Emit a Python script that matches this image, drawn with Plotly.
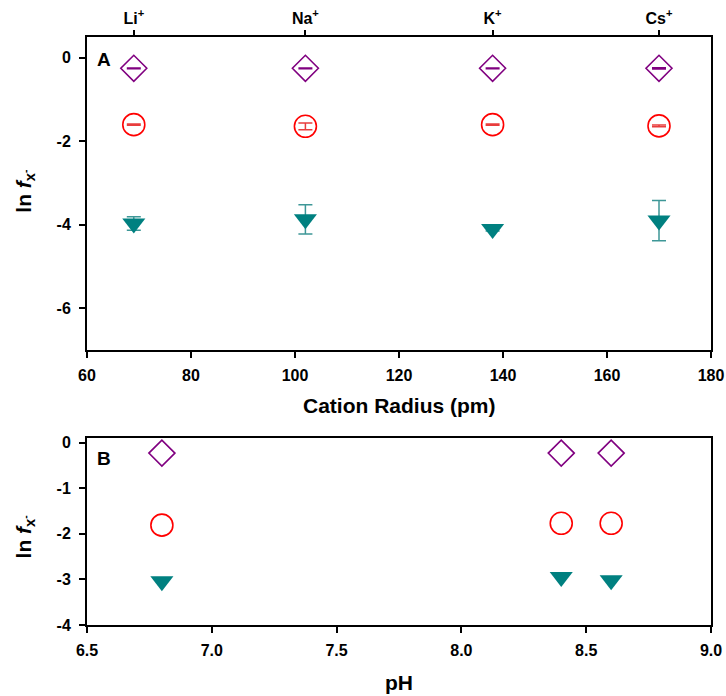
import plotly.graph_objects as go

# ---------------- data ----------------
cations = ["Li<sup>+</sup>", "Na<sup>+</sup>", "K<sup>+</sup>", "Cs<sup>+</sup>"]
radius_pm = [69, 102, 138, 170]

a_diamond = [-0.25, -0.25, -0.25, -0.25]
a_diamond_err = [0.01, 0.01, 0.01, 0.015]
a_circle = [-1.60, -1.64, -1.60, -1.63]
a_circle_err = [0.015, 0.08, 0.015, 0.02]
a_triangle = [-3.97, -3.87, -4.10, -3.90]
a_triangle_err = [0.16, 0.35, 0.05, 0.48]

ph = [6.8, 8.4, 8.6]
b_diamond = [-0.23, -0.23, -0.23]
b_circle = [-1.81, -1.77, -1.77]
b_triangle = [-3.04, -2.95, -3.02]

a_xticks = [60, 80, 100, 120, 140, 160, 180]
a_yticks = [0, -2, -4, -6]
a_ytext = ["0", "-2", "-4", "-6"]
b_xticks = [6.5, 7.0, 7.5, 8.0, 8.5, 9.0]
b_xtext = ["6.5", "7.0", "7.5", "8.0", "8.5", "9.0"]
b_yticks = [0, -1, -2, -3, -4]
b_ytext = ["0", "-1", "-2", "-3", "-4"]

PURPLE = "#800080"
RED = "#FF0000"
TEAL = "#008080"
FONT = "Liberation Sans, Arial, sans-serif"

fig = go.Figure()

def add(x, y, err, symbol, color, size, errcolor, xa, ya, filled=False):
    marker = dict(symbol=symbol, size=size, color=color if filled else "rgba(0,0,0,0)",
                  line=dict(color=color, width=0 if filled else 1.6))
    kw = {}
    if err is not None:
        kw["error_y"] = dict(type="data", array=err, visible=True, color=errcolor,
                             thickness=1.5, width=7)
    fig.add_trace(go.Scatter(x=x, y=y, mode="markers", marker=marker,
                             xaxis=xa, yaxis=ya, showlegend=False, **kw))

# Panel A
add(radius_pm, a_diamond, a_diamond_err, "diamond", PURPLE, 20, PURPLE, "x", "y")
add(radius_pm, a_circle, a_circle_err, "circle", RED, 22, "rgba(230,40,40,0.9)", "x", "y")
add(radius_pm, a_triangle, a_triangle_err, "triangle-down", TEAL, 20, "rgba(40,140,140,0.9)", "x", "y", filled=True)
# Panel B
add(ph, b_diamond, None, "diamond", PURPLE, 20, PURPLE, "x2", "y2")
add(ph, b_circle, None, "circle", RED, 22, RED, "x2", "y2")
add(ph, b_triangle, None, "triangle-down", TEAL, 20, TEAL, "x2", "y2", filled=True)
# invisible trace for the top cation axis
fig.add_trace(go.Scatter(x=radius_pm, y=a_diamond, mode="markers", marker=dict(opacity=0),
                         xaxis="x3", yaxis="y", showlegend=False, hoverinfo="skip"))

tickfont = dict(family=FONT, size=16, color="black", weight="bold")
axcommon = dict(showgrid=False, zeroline=False, showline=True, linecolor="black", linewidth=2,
                ticks="outside", ticklen=6, tickwidth=2, tickcolor="black", tickfont=tickfont,
                mirror=True, automargin=False)

domA = [0.4677, 1.0]
domB = [0.0, 0.318]

fig.update_layout(
    width=726, height=696, autosize=False,
    margin=dict(l=87, r=15, t=37, b=71, autoexpand=False),
    plot_bgcolor="white", paper_bgcolor="white",
    xaxis=dict(**axcommon, domain=[0, 1], range=[60, 180], tickvals=a_xticks,
               ticktext=[str(v) for v in a_xticks], anchor="y", ticklabelstandoff=4),
    yaxis=dict(**axcommon, domain=domA, range=[-7, 0.5], tickvals=a_yticks, ticktext=a_ytext,
               anchor="x", ticklabelstandoff=5),
    xaxis2=dict(**axcommon, domain=[0, 1], range=[6.5, 9.0], tickvals=b_xticks,
                ticktext=b_xtext, anchor="y2", ticklabelstandoff=4),
    yaxis2=dict(**axcommon, domain=domB, range=[-4, 0.1], tickvals=b_yticks, ticktext=b_ytext,
                anchor="x2", ticklabelstandoff=5),
    xaxis3=dict(overlaying="x", side="top", anchor="y", range=[60, 180], tickvals=radius_pm,
                ticktext=cations, showgrid=False, zeroline=False, showline=False,
                ticks="outside", ticklen=6, tickwidth=2, tickcolor="black", tickfont=tickfont,
                automargin=False),
)

titlefont = dict(family=FONT, size=21, color="black", weight="bold")
labfont = dict(family=FONT, size=19, color="black", weight="bold")
ylab = "ln <i>f</i><sub>x<sup>-</sup></sub>"
ann = [
    dict(text="Cation Radius (pm)", x=0.5, y=0.374, xref="paper", yref="paper",
         xanchor="center", yanchor="middle", showarrow=False, font=titlefont),
    dict(text="pH", x=0.5, y=-0.0986, xref="paper", yref="paper",
         xanchor="center", yanchor="middle", showarrow=False, font=titlefont),
    dict(text=ylab, x=-0.100, y=0.738, xref="paper", yref="paper",
         xanchor="center", yanchor="middle", showarrow=False, textangle=-90, font=titlefont),
    dict(text=ylab, x=-0.100, y=0.150, xref="paper", yref="paper",
         xanchor="center", yanchor="middle", showarrow=False, textangle=-90, font=titlefont),
    dict(text="A", x=0.0128, y=0.961, xref="paper", yref="paper",
         xanchor="left", yanchor="middle", showarrow=False, font=labfont),
    dict(text="B", x=0.0128, y=0.284, xref="paper", yref="paper",
         xanchor="left", yanchor="middle", showarrow=False, font=labfont),
]
fig.update_layout(annotations=ann)

fig.write_html(
    "out.html",
    config={"displayModeBar": False, "responsive": False},
    post_script=("document.documentElement.style.overflow='hidden';"
                 "document.body.style.margin='0px';"
                 "document.body.style.overflow='hidden';"),
)
